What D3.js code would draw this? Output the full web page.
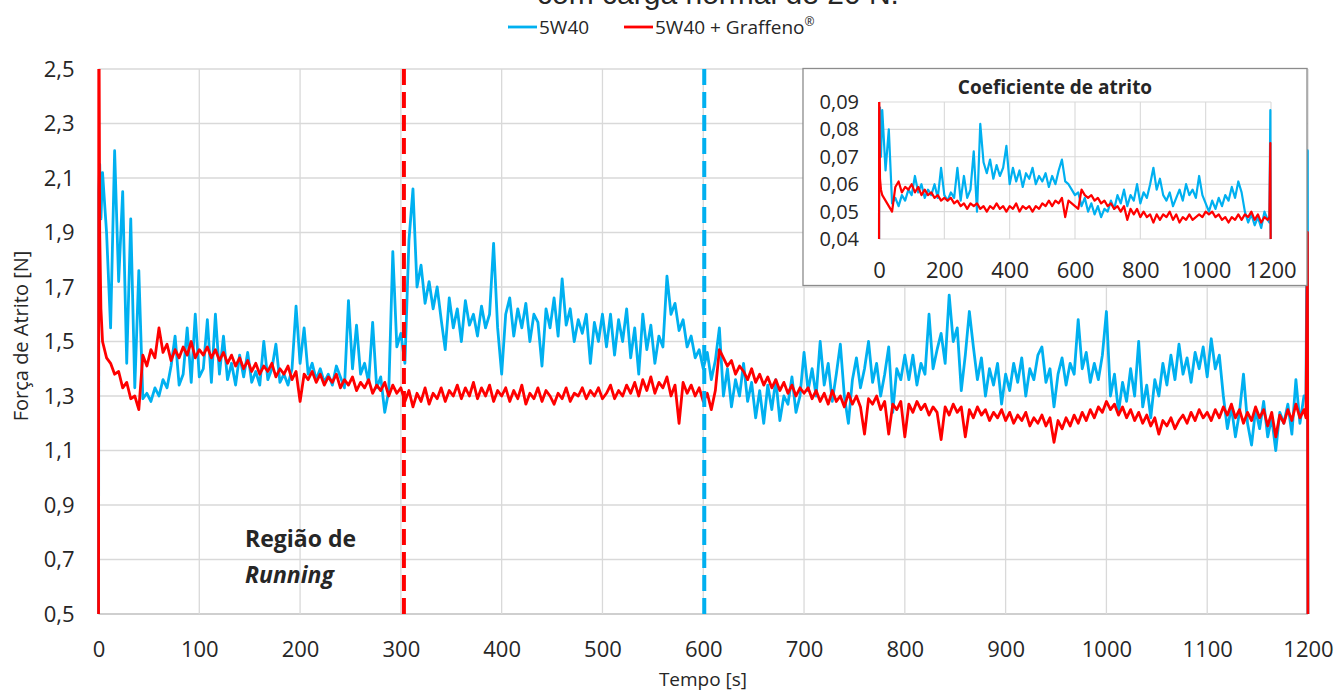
<!doctype html>
<html>
<head>
<meta charset="utf-8">
<style>
  body { margin: 0; background: #fff; }
  svg text { font-family: "Open Sans", "Noto Sans", sans-serif; fill: #262626; }
  .tick line { display: none; }
  .domain { display: none; }
</style>
<script src="https://d3js.org/d3.v7.min.js"></script>
</head>
<body>
<script>
// ---- force of friction [N], 5W40 and 5W40 + Graffeno, one sample every 4 s (4..1196 s)
var forceStep = 4, forceStart = 4;
var forceBlue = [
  2.12, 1.9, 1.55, 2.2, 1.72, 2.05, 1.42, 1.95, 1.33, 1.76, 1.29, 1.31, 1.28, 1.33, 1.3, 1.36, 1.33, 1.41, 1.52, 1.34, 1.38, 1.55, 1.35, 1.6, 1.37,
  1.4, 1.58, 1.35, 1.6, 1.38, 1.52, 1.36, 1.42, 1.34, 1.45, 1.37, 1.46, 1.35, 1.39, 1.34, 1.5, 1.36, 1.4, 1.49, 1.35, 1.38, 1.34, 1.4, 1.63, 1.42,
  1.55, 1.38, 1.42, 1.36, 1.4, 1.35, 1.38, 1.34, 1.41, 1.37, 1.33, 1.65, 1.4, 1.56, 1.38, 1.42, 1.35, 1.57, 1.33, 1.37, 1.24, 1.32, 1.83, 1.48, 1.53,
  1.42, 1.87, 2.06, 1.7, 1.78, 1.64, 1.72, 1.62, 1.7, 1.58, 1.47, 1.66, 1.55, 1.62, 1.5, 1.65, 1.56, 1.6, 1.52, 1.63, 1.55, 1.6, 1.86, 1.55, 1.38,
  1.6, 1.66, 1.52, 1.62, 1.55, 1.64, 1.5, 1.6, 1.57, 1.41, 1.62, 1.55, 1.66, 1.52, 1.73, 1.56, 1.62, 1.5, 1.58, 1.53, 1.6, 1.42, 1.57, 1.5, 1.6,
  1.48, 1.6, 1.45, 1.58, 1.5, 1.62, 1.44, 1.55, 1.38, 1.6, 1.47, 1.56, 1.42, 1.52, 1.48, 1.74, 1.6, 1.64, 1.54, 1.58, 1.48, 1.52, 1.44, 1.47, 1.4,
  1.46, 1.36, 1.43, 1.55, 1.3, 1.4, 1.26, 1.36, 1.3, 1.42, 1.28, 1.35, 1.22, 1.32, 1.2, 1.34, 1.25, 1.36, 1.21, 1.3, 1.27, 1.37, 1.24, 1.3, 1.46,
  1.32, 1.4, 1.3, 1.5, 1.34, 1.42, 1.28, 1.38, 1.49, 1.3, 1.2, 1.36, 1.44, 1.33, 1.4, 1.5, 1.35, 1.42, 1.3, 1.38, 1.48, 1.24, 1.4, 1.36, 1.45,
  1.36, 1.45, 1.34, 1.42, 1.38, 1.6, 1.4, 1.47, 1.53, 1.42, 1.67, 1.5, 1.55, 1.32, 1.45, 1.61, 1.48, 1.36, 1.44, 1.3, 1.4, 1.34, 1.42, 1.27, 1.38,
  1.32, 1.42, 1.35, 1.44, 1.3, 1.4, 1.36, 1.45, 1.48, 1.35, 1.4, 1.26, 1.38, 1.44, 1.34, 1.42, 1.38, 1.58, 1.4, 1.46, 1.35, 1.42, 1.36, 1.45, 1.61,
  1.3, 1.38, 1.24, 1.35, 1.28, 1.4, 1.3, 1.5, 1.26, 1.34, 1.22, 1.36, 1.3, 1.42, 1.34, 1.45, 1.36, 1.49, 1.38, 1.44, 1.35, 1.46, 1.4, 1.48, 1.37,
  1.51, 1.4, 1.45, 1.3, 1.18, 1.26, 1.15, 1.24, 1.38, 1.2, 1.12, 1.25, 1.18, 1.28, 1.15, 1.22, 1.1, 1.24, 1.2, 1.27, 1.16, 1.36, 1.2, 1.3
];
var forceRed = [
  1.5, 1.44, 1.42, 1.38, 1.39, 1.33, 1.35, 1.29, 1.3, 1.25, 1.45, 1.41, 1.47, 1.44, 1.55, 1.46, 1.49, 1.43, 1.47, 1.44, 1.48, 1.45, 1.5, 1.44, 1.47,
  1.45, 1.48, 1.44, 1.47, 1.43, 1.46, 1.42, 1.45, 1.41, 1.44, 1.4, 1.43, 1.39, 1.42, 1.38, 1.41, 1.39, 1.42, 1.37, 1.4, 1.38, 1.41, 1.36, 1.39, 1.28,
  1.38, 1.36, 1.39, 1.35, 1.38, 1.34, 1.37, 1.35, 1.38, 1.33, 1.36, 1.34, 1.37, 1.32, 1.35, 1.33, 1.36, 1.31, 1.34, 1.32, 1.35, 1.3, 1.34, 1.31, 1.33,
  1.28, 1.32, 1.26, 1.31, 1.28, 1.33, 1.27, 1.31, 1.29, 1.33, 1.28, 1.32, 1.3, 1.34, 1.29, 1.33, 1.3, 1.35, 1.29, 1.33, 1.3, 1.34, 1.28, 1.32, 1.3,
  1.33, 1.28, 1.32, 1.29, 1.34, 1.27, 1.31, 1.29, 1.33, 1.28, 1.32, 1.3, 1.27, 1.31, 1.29, 1.33, 1.28, 1.31, 1.3, 1.33, 1.29, 1.32, 1.3, 1.33, 1.29,
  1.31, 1.34, 1.29, 1.32, 1.3, 1.34, 1.31, 1.35, 1.3, 1.36, 1.32, 1.37, 1.31, 1.35, 1.33, 1.37, 1.3, 1.34, 1.2, 1.35, 1.31, 1.34, 1.3, 1.33, 1.28,
  1.31, 1.25, 1.32, 1.47, 1.44, 1.41, 1.43, 1.38, 1.41, 1.39, 1.36, 1.4, 1.35, 1.38, 1.34, 1.37, 1.33, 1.36, 1.32, 1.35, 1.31, 1.34, 1.3, 1.33, 1.31,
  1.33, 1.29, 1.32, 1.28, 1.31, 1.27, 1.32, 1.28, 1.3, 1.26, 1.31, 1.27, 1.3, 1.26, 1.16, 1.29, 1.27, 1.3, 1.25, 1.28, 1.16, 1.27, 1.25, 1.28, 1.15,
  1.27, 1.24, 1.28, 1.25, 1.27, 1.23, 1.26, 1.24, 1.14, 1.26, 1.23, 1.27, 1.24, 1.26, 1.15, 1.25, 1.22, 1.26, 1.23, 1.25, 1.21, 1.24, 1.22, 1.25, 1.21,
  1.24, 1.2, 1.23, 1.21, 1.24, 1.19, 1.22, 1.2, 1.23, 1.19, 1.22, 1.13, 1.21, 1.18, 1.22, 1.19, 1.23, 1.2, 1.24, 1.21, 1.25, 1.22, 1.26, 1.24, 1.28,
  1.25, 1.27, 1.23, 1.26, 1.22, 1.25, 1.21, 1.24, 1.2, 1.23, 1.19, 1.22, 1.16, 1.21, 1.19, 1.22, 1.18, 1.21, 1.23, 1.2, 1.24, 1.21, 1.25, 1.22, 1.24,
  1.21, 1.25, 1.22, 1.26, 1.23, 1.27, 1.22, 1.25, 1.2, 1.24, 1.21, 1.26, 1.22, 1.25, 1.19, 1.24, 1.15, 1.23, 1.2, 1.25, 1.21, 1.27, 1.22, 1.25
];
// start-up and stop transients (s, N)
var forceHeadTime = [0, 0.3, 1.2, 2.4];
var forceHeadBlue = [0.0, 2.05, 2.15, 1.95];
var forceHeadRed = [0.0, 2.9, 1.9, 1.62];
var forceTailTime = [1198, 1199.4, 1200];
var forceTailBlue = [1.3, 2.2, 0.2];
var forceTailRed = [1.22, 1.9, 0.2];

// ---- coefficient of friction, one sample every 10 s (10..1190 s)
var coefStep = 10, coefStart = 10;
var coefBlue = [
  0.087, 0.065, 0.08, 0.053, 0.055, 0.052, 0.056, 0.054, 0.058, 0.056, 0.063, 0.057, 0.06, 0.055, 0.058, 0.056, 0.06, 0.055, 0.066, 0.056,
  0.054, 0.057, 0.055, 0.066, 0.054, 0.063, 0.055, 0.058, 0.072, 0.05, 0.082, 0.068, 0.064, 0.069, 0.062, 0.067, 0.063, 0.066, 0.074, 0.06,
  0.066, 0.061, 0.065, 0.059, 0.064, 0.062, 0.066, 0.06, 0.063, 0.061, 0.064, 0.059, 0.063, 0.06, 0.065, 0.069, 0.061, 0.06, 0.058, 0.056,
  0.057, 0.052, 0.055, 0.05, 0.053, 0.049, 0.052, 0.048, 0.051, 0.05, 0.054, 0.051, 0.056, 0.053, 0.058, 0.052, 0.056, 0.054, 0.06, 0.053,
  0.057, 0.055, 0.06, 0.066, 0.058, 0.062, 0.056, 0.054, 0.057, 0.052, 0.055, 0.058, 0.054, 0.06, 0.056, 0.058, 0.055, 0.063, 0.056, 0.053,
  0.05, 0.054, 0.051, 0.055, 0.052, 0.056, 0.054, 0.059, 0.055, 0.061, 0.057, 0.05, 0.046, 0.049, 0.045, 0.048, 0.044, 0.05, 0.047
];
var coefRed = [
  0.056, 0.054, 0.052, 0.05, 0.059, 0.061, 0.057, 0.059, 0.058, 0.06, 0.057, 0.059, 0.056, 0.058, 0.056, 0.057, 0.055, 0.056, 0.054, 0.055,
  0.054, 0.055, 0.053, 0.054, 0.052, 0.053, 0.051, 0.053, 0.052, 0.053, 0.051, 0.052, 0.05, 0.052, 0.051, 0.053, 0.051, 0.052, 0.05, 0.052,
  0.051, 0.053, 0.05, 0.052, 0.051, 0.052, 0.05, 0.052, 0.051, 0.053, 0.052, 0.054, 0.052, 0.054, 0.053, 0.055, 0.048, 0.054, 0.053, 0.052,
  0.051, 0.058, 0.056, 0.055, 0.056, 0.054, 0.055, 0.053, 0.054, 0.052, 0.053, 0.051, 0.052, 0.05, 0.052, 0.047, 0.051, 0.049, 0.051, 0.048,
  0.05, 0.048, 0.049, 0.046, 0.049, 0.047, 0.049, 0.048, 0.05, 0.047, 0.049, 0.046, 0.048, 0.047, 0.049, 0.047, 0.048, 0.049, 0.048, 0.05,
  0.049, 0.05, 0.048, 0.049, 0.047, 0.048, 0.046, 0.048, 0.047, 0.049, 0.047, 0.049, 0.048, 0.05, 0.047, 0.049, 0.046, 0.048, 0.047
];
var coefHeadTime = [0, 0.5, 3, 6];
var coefHeadBlue = [0.0, 0.085, 0.088, 0.07];
var coefHeadRed = [0.0, 0.095, 0.062, 0.058];
var coefTailTime = [1195, 1198, 1200];
var coefTailBlue = [0.046, 0.087, 0.0];
var coefTailRed = [0.048, 0.075, 0.0];

// ---- axes, markers and labels
var xTicks = [0, 100, 200, 300, 400, 500, 600, 700, 800, 900, 1000, 1100, 1200];
var yTicks = [0.5, 0.7, 0.9, 1.1, 1.3, 1.5, 1.7, 1.9, 2.1, 2.3, 2.5];
var insetXTicks = [0, 200, 400, 600, 800, 1000, 1200];
var insetYTicks = [0.04, 0.05, 0.06, 0.07, 0.08, 0.09];
var runningEnd = [303, 601];  // end of running-in: 5W40 + Graffeno, 5W40
var seriesNames = ["5W40", "5W40 + Graffeno"];
var blue = "#00b0f0", red = "#ff0000", grid = "#d9d9d9";

function buildSeries(headT, headV, t0, dt, vals, tailT, tailV) {
  var pts = headT.map(function (t, i) { return [t, headV[i]]; });
  vals.forEach(function (v, i) { pts.push([t0 + i * dt, v]); });
  tailT.forEach(function (t, i) { pts.push([t, tailV[i]]); });
  return pts;
}
function comma(d, n) { return d.toFixed(n).replace(".", ","); }

var width = 1338, height = 693;
var svg = d3.select("body").append("svg")
  .attr("width", width).attr("height", height);

// ---------- main chart
var x = d3.scaleLinear().domain([0, 1200]).range([98.5, 1308]);
var y = d3.scaleLinear().domain([0.5, 2.5]).range([614, 69]);

svg.append("defs").append("clipPath").attr("id", "clipMain")
  .append("rect").attr("x", x(0) - 3).attr("y", y(2.5))
  .attr("width", x(1200) - x(0) + 6).attr("height", y(0.5) - y(2.5));

var g = svg.append("g");
g.selectAll(".hgrid").data(yTicks).enter().append("line")
  .attr("x1", x(0)).attr("x2", x(1200))
  .attr("y1", function (d) { return y(d); }).attr("y2", function (d) { return y(d); })
  .attr("stroke", function (d) { return d === 0.5 ? "#bfbfbf" : grid; })
  .attr("stroke-width", 1.3);
g.selectAll(".vgrid").data(xTicks).enter().append("line")
  .attr("x1", function (d) { return x(d); }).attr("x2", function (d) { return x(d); })
  .attr("y1", y(2.5)).attr("y2", y(0.5))
  .attr("stroke", grid).attr("stroke-width", 1.3);

var line = d3.line().x(function (d) { return x(d[0]); }).y(function (d) { return y(d[1]); });
var mainBlue = buildSeries(forceHeadTime, forceHeadBlue, forceStart, forceStep, forceBlue, forceTailTime, forceTailBlue);
var mainRed = buildSeries(forceHeadTime, forceHeadRed, forceStart, forceStep, forceRed, forceTailTime, forceTailRed);

var lines = g.append("g").attr("clip-path", "url(#clipMain)");
lines.append("path").datum(mainBlue).attr("d", line)
  .attr("fill", "none").attr("stroke", blue).attr("stroke-width", 2.8).attr("stroke-linejoin", "round");
lines.append("path").datum(mainRed).attr("d", line)
  .attr("fill", "none").attr("stroke", red).attr("stroke-width", 2.8).attr("stroke-linejoin", "round");

// end of running-in markers
g.selectAll(".marker").data(runningEnd).enter().append("line")
  .attr("x1", function (d) { return x(d); }).attr("x2", function (d) { return x(d); })
  .attr("y1", y(2.5)).attr("y2", y(0.5))
  .attr("stroke", function (d, i) { return i === 0 ? red : blue; })
  .attr("stroke-width", 4).attr("stroke-dasharray", "16,7");

var xAxis = d3.axisBottom(x).tickValues(xTicks).tickSize(0).tickPadding(27)
  .tickFormat(function (d) { return d; });
g.append("g").attr("transform", "translate(0," + y(0.5) + ")").call(xAxis)
  .selectAll("text").style("font-size", "22px");
var yAxis = d3.axisLeft(y).tickValues(yTicks).tickSize(0).tickPadding(24)
  .tickFormat(function (d) { return comma(d, 1); });
g.append("g").attr("transform", "translate(" + x(0) + ",0)").call(yAxis)
  .selectAll("text").style("font-size", "22px");

svg.append("text").attr("x", 703).attr("y", 686).attr("text-anchor", "middle")
  .style("font-size", "19px").text("Tempo [s]");
svg.append("text").attr("transform", "translate(28,336) rotate(-90)").attr("text-anchor", "middle")
  .style("font-size", "20px").text("Força de Atrito [N]");

svg.append("text").attr("x", 245).attr("y", 547)
  .style("font-size", "23px").style("font-weight", "bold").text("Região de");
svg.append("text").attr("x", 245).attr("y", 583)
  .style("font-size", "23px").style("font-weight", "bold").style("font-style", "italic").text("Running");

// title (partly above the page) and legend
svg.append("text").attr("x", 718).attr("y", 4).attr("text-anchor", "middle")
  .style("font-family", "'Liberation Sans', Arial, sans-serif").style("font-size", "30px")
  .text("com carga normal de 20 N.");

var legend = svg.append("g");
var legendX = [508, 624];
seriesNames.forEach(function (name, i) {
  legend.append("line").attr("x1", legendX[i]).attr("x2", legendX[i] + 29)
    .attr("y1", 27).attr("y2", 27)
    .attr("stroke", i === 0 ? blue : red).attr("stroke-width", 2.8);
  var t = legend.append("text").attr("x", legendX[i] + 31).attr("y", 34)
    .style("font-size", "19px").text(name);
  if (i === 1) t.append("tspan").attr("dy", -8).style("font-size", "12px").text("®");
});

// ---------- inset: coefficient of friction
var inset = svg.append("g");
inset.append("rect").attr("x", 803).attr("y", 68.5).attr("width", 504).attr("height", 217)
  .attr("fill", "#fff").attr("stroke", "#8c8c8c").attr("stroke-width", 1.3);

var xi = d3.scaleLinear().domain([0, 1200]).range([879, 1271]);
var yi = d3.scaleLinear().domain([0.04, 0.09]).range([239, 102]);

svg.select("defs").append("clipPath").attr("id", "clipInset")
  .append("rect").attr("x", xi(0) - 2).attr("y", yi(0.09))
  .attr("width", xi(1200) - xi(0) + 4).attr("height", yi(0.04) - yi(0.09));

inset.selectAll(".ihgrid").data(insetYTicks).enter().append("line")
  .attr("x1", xi(0)).attr("x2", xi(1200))
  .attr("y1", function (d) { return yi(d); }).attr("y2", function (d) { return yi(d); })
  .attr("stroke", grid).attr("stroke-width", 1.1);
inset.selectAll(".ivgrid").data(insetXTicks).enter().append("line")
  .attr("x1", function (d) { return xi(d); }).attr("x2", function (d) { return xi(d); })
  .attr("y1", yi(0.09)).attr("y2", yi(0.04))
  .attr("stroke", grid).attr("stroke-width", 1.1);

var lineInset = d3.line().x(function (d) { return xi(d[0]); }).y(function (d) { return yi(d[1]); });
var insetBlue = buildSeries(coefHeadTime, coefHeadBlue, coefStart, coefStep, coefBlue, coefTailTime, coefTailBlue);
var insetRed = buildSeries(coefHeadTime, coefHeadRed, coefStart, coefStep, coefRed, coefTailTime, coefTailRed);
var insetLines = inset.append("g").attr("clip-path", "url(#clipInset)");
insetLines.append("path").datum(insetBlue).attr("d", lineInset)
  .attr("fill", "none").attr("stroke", blue).attr("stroke-width", 2.2).attr("stroke-linejoin", "round");
insetLines.append("path").datum(insetRed).attr("d", lineInset)
  .attr("fill", "none").attr("stroke", red).attr("stroke-width", 2.2).attr("stroke-linejoin", "round");

var xiAxis = d3.axisBottom(xi).tickValues(insetXTicks).tickSize(0).tickPadding(23)
  .tickFormat(function (d) { return d; });
inset.append("g").attr("transform", "translate(0," + yi(0.04) + ")").call(xiAxis)
  .selectAll("text").style("font-size", "22px");
var yiAxis = d3.axisLeft(yi).tickValues(insetYTicks).tickSize(0).tickPadding(20)
  .tickFormat(function (d) { return comma(d, 2); });
inset.append("g").attr("transform", "translate(" + xi(0) + ",0)").call(yiAxis)
  .selectAll("text").style("font-size", "20px");

inset.append("text").attr("x", 1055).attr("y", 94).attr("text-anchor", "middle")
  .style("font-size", "19px").style("font-weight", "bold").text("Coeficiente de atrito");
</script>
</body>
</html>
